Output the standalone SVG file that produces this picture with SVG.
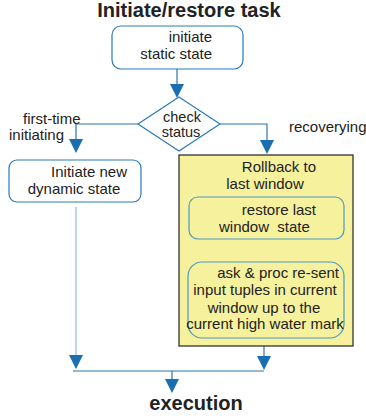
<svg xmlns="http://www.w3.org/2000/svg" width="366" height="419" viewBox="0 0 366 419">
  <style>
    text { font-family: "Liberation Sans", Arial, sans-serif; fill: #222; }
    .title { font-size: 20px; font-weight: bold; }
    .lbl { font-size: 15px; }
    .box { fill: #ffffff; stroke: #2a7ab8; stroke-width: 1.2; }
    .inner { fill: #f6f19c; stroke: #4f98c4; stroke-width: 1.2; }
    .line { fill: none; stroke: #2a74b0; stroke-width: 1.2; }
    .head { fill: #1a6fb0; }
  </style>
  <defs>
    <!-- downward arrowhead, tip at origin -->
    <path id="ah" class="head" d="M-7,-14 L7,-14 L0,0 Z"/>
  </defs>

  <text class="title" x="189" y="17" text-anchor="middle">Initiate/restore task</text>

  <g id="connectors">
    <path class="line" d="M177,69 V85"/>
    <use href="#ah" x="177" y="98"/>
    <path class="line" d="M138,124 H76 V140"/>
    <use href="#ah" x="76" y="153"/>
    <path class="line" d="M220,124 H267 V140"/>
    <use href="#ah" x="267" y="154"/>
    <path class="line" d="M76,207 V356" style="stroke:#8cbde0"/>
    <use href="#ah" x="76" y="369"/>
    <path class="line" d="M269,239 V252"/>
    <use href="#ah" x="269" y="266"/>
    <path class="line" d="M264,346 V357"/>
    <use href="#ah" x="264" y="370"/>
    <path class="line" d="M73,371 H264 M172,371 V380"/>
    <use href="#ah" x="172" y="393"/>
  </g>

  <g id="init-static">
    <rect class="box" x="112" y="26" width="131" height="43" rx="9"/>
    <text class="lbl" x="212" y="42" text-anchor="end">initiate</text>
    <text class="lbl" x="212" y="59" text-anchor="end">static state</text>
  </g>

  <g id="check-status">
    <path class="box" d="M179,97 L220,124 L179,151 L138,124 Z"/>
    <text class="lbl" x="182" y="122" text-anchor="middle" style="font-size:14.5px">check</text>
    <text class="lbl" x="181" y="137" text-anchor="middle" style="font-size:14.5px">status</text>
  </g>

  <g id="branch-labels">
    <text class="lbl" x="23" y="124">first-time</text>
    <text class="lbl" x="9" y="140">initiating</text>
    <text class="lbl" x="289" y="132">recoverying</text>
  </g>

  <g id="init-dynamic">
    <rect class="box" x="9" y="160" width="132" height="42" rx="8"/>
    <text class="lbl" x="127" y="177" text-anchor="end">Initiate new</text>
    <text class="lbl" x="74" y="194" text-anchor="middle">dynamic state</text>
  </g>

  <g id="rollback">
    <rect x="179" y="155" width="174" height="191" fill="#f6f19c" stroke="#333" stroke-width="1.3"/>
    <text class="lbl" x="316" y="172" text-anchor="end">Rollback to</text>
    <text class="lbl" x="265" y="189" text-anchor="middle">last window</text>
  </g>

  <g id="restore-window">
    <rect class="inner" x="189" y="197" width="155" height="42" rx="9"/>
    <text class="lbl" x="316" y="215" text-anchor="end">restore last</text>
    <text class="lbl" x="219" y="232" xml:space="preserve">window  state</text>
  </g>

  <g id="resend-tuples">
    <rect class="inner" x="188" y="262" width="156" height="76" rx="14"/>
    <text class="lbl" x="339" y="278" text-anchor="end">ask &amp; proc re-sent</text>
    <text class="lbl" x="265" y="295" text-anchor="middle">input tuples in current</text>
    <text class="lbl" x="264" y="313" text-anchor="middle">window up to the</text>
    <text class="lbl" x="265" y="329" text-anchor="middle">current high water mark</text>
  </g>

  <text class="title" x="196" y="410" text-anchor="middle">execution</text>
</svg>
